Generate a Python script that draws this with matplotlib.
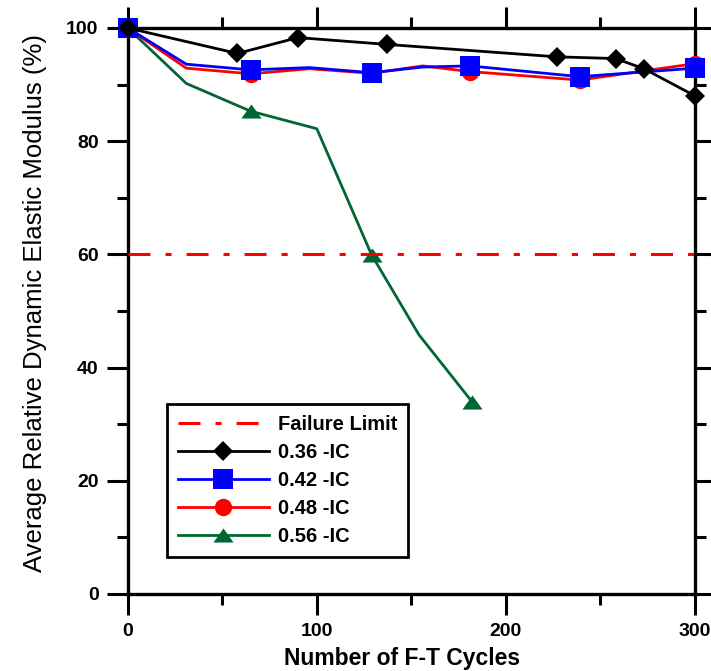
import matplotlib
matplotlib.use("Agg")
import matplotlib.pyplot as plt
from matplotlib.ticker import MultipleLocator

plt.rcParams['font.family'] = ['Liberation Sans', 'DejaVu Sans']

# data
cycles_036 = [0, 58, 90, 137, 227, 258, 273, 300]
modulus_036 = [100, 95.5, 98.3, 97.1, 94.9, 94.6, 92.8, 88.0]

cycles_042 = [0, 31, 65, 96, 129, 156, 181, 239, 300]
modulus_042 = [100, 93.6, 92.6, 93.0, 92.1, 93.1, 93.3, 91.4, 92.9]
marks_042 = [0, 2, 4, 6, 7, 8]

cycles_048 = [0, 31, 65, 96, 129, 156, 181, 239, 300]
modulus_048 = [100, 92.9, 91.9, 92.8, 92.0, 93.3, 92.3, 90.8, 93.7]
marks_048 = [0, 2, 4, 6, 7, 8]

cycles_056 = [0, 31, 65, 100, 129, 154, 182]
modulus_056 = [100, 90.2, 85.3, 82.2, 59.9, 45.8, 34.0]
marks_056 = [0, 2, 4, 6]

failure_limit = 60
x_range = [0, 300]

# flat triangle marker
tri = [(-1, -0.7), (1, -0.7), (0, 0.7), (-1, -0.7)]

fig = plt.figure(figsize=(7.11, 6.71), dpi=100)
ax = fig.add_axes([0.1796, 0.1148, 0.7979, 0.8435])

lw = 2.0
ax.plot(cycles_056, modulus_056, color='#006633', lw=lw, marker=tri, ms=14.5,
        markevery=marks_056, mec='#006633', mew=0, label='0.56 -IC', clip_on=False, zorder=3)
ax.plot(cycles_048, modulus_048, color='#ff0000', lw=lw, marker='o', ms=12.5,
        markevery=marks_048, mec='#ff0000', mew=0, label='0.48 -IC', clip_on=False, zorder=4)
ax.plot(cycles_042, modulus_042, color='#0000ff', lw=lw, marker='s', ms=14.5,
        markevery=marks_042, mec='#0000ff', mew=0, label='0.42 -IC', clip_on=False, zorder=5)
ax.plot(cycles_036, modulus_036, color='black', lw=lw, marker='D', ms=10.5,
        mec='black', mew=0, label='0.36 -IC', clip_on=False, zorder=6)
ax.plot(x_range, [failure_limit, failure_limit], color='#ff0000', lw=2.2,
        ls=(0, (7.2, 4.9, 2, 4.9)), label='Failure Limit', zorder=7)

ax.set_xlim(0, 300)
ax.set_ylim(0, 100)
ax.xaxis.set_major_locator(MultipleLocator(100))
ax.xaxis.set_minor_locator(MultipleLocator(50))
ax.yaxis.set_major_locator(MultipleLocator(20))
ax.yaxis.set_minor_locator(MultipleLocator(10))

for s in ax.spines.values():
    s.set_linewidth(2.4)
ax.tick_params(which='both', direction='out', top=True, right=True, width=2.2,
               labelsize=14, pad=6)
ax.tick_params(which='major', length=15)
ax.tick_params(which='minor', length=8)
for lab in ax.get_xticklabels() + ax.get_yticklabels():
    lab.set_fontweight('bold')

ax.set_xlabel('Number of F-T Cycles', fontsize=16.5, fontweight='bold', labelpad=5)
ax.xaxis.label.set_x(0.484)
ax.set_ylabel('Average Relative Dynamic Elastic Modulus (%)', fontsize=18.5, labelpad=14)
ax.yaxis.label.set_y(0.514)

handles, labels = ax.get_legend_handles_labels()
order = [4, 3, 2, 1, 0]
leg = ax.legend([handles[i] for i in order], [labels[i] for i in order],
                loc='lower left', bbox_to_anchor=(0.069, 0.065),
                prop={'weight': 'bold', 'size': 14.5}, handlelength=4.5,
                fancybox=False, framealpha=1, edgecolor='black', borderaxespad=0,
                borderpad=0.55, labelspacing=0.45, handletextpad=0.45)
leg.get_frame().set_linewidth(2)

fig.savefig('out.png', dpi=100)
